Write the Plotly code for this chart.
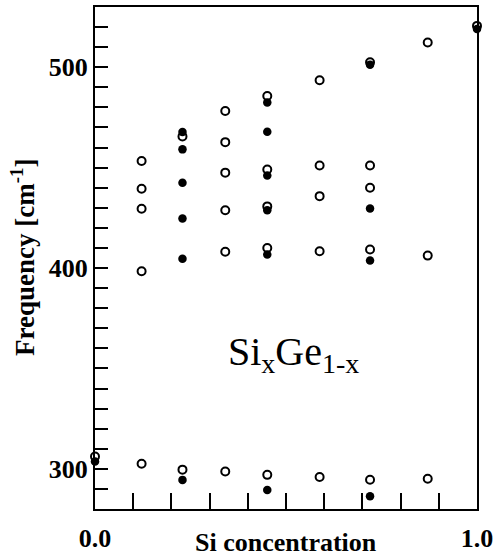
import plotly.graph_objects as go

# Open circles (x = Si concentration, y = frequency cm^-1)
open_x = [0.0,
          0.122, 0.122, 0.122, 0.122, 0.122,
          0.229, 0.229,
          0.341, 0.341, 0.341, 0.341, 0.341, 0.341,
          0.451, 0.451, 0.451, 0.451, 0.451,
          0.588, 0.588, 0.588, 0.588, 0.588,
          0.720, 0.720, 0.720, 0.720, 0.720,
          0.871, 0.871, 0.871,
          1.0]
open_y = [306.1,
          453.3, 439.5, 429.5, 398.4, 302.5,
          465.5, 299.6,
          478.2, 462.7, 447.5, 428.8, 408.1, 298.7,
          485.7, 449.1, 430.7, 410.0, 297.0,
          493.5, 451.1, 435.8, 408.4, 295.9,
          502.5, 451.1, 440.0, 409.2, 294.6,
          512.3, 406.2, 295.1,
          520.6]

# Filled circles
fill_x = [0.0,
          0.229, 0.229, 0.229, 0.229, 0.229, 0.229,
          0.451, 0.451, 0.451, 0.451, 0.451, 0.451,
          0.720, 0.720, 0.720, 0.720,
          1.0]
fill_y = [303.6,
          467.8, 459.1, 442.5, 424.7, 404.6, 294.5,
          482.4, 467.9, 446.1, 428.8, 406.7, 289.5,
          501.3, 429.7, 403.7, 286.3,
          519.0]

y_tick_vals = list(range(280, 531, 10))
y_tick_text = [str(v) if v in (300, 400, 500) else "" for v in y_tick_vals]
x_tick_vals = [i / 10 for i in range(11)]
x_tick_text = ["0.0" if v == 0 else ("1.0" if v == 1.0 else "") for v in x_tick_vals]

x_title = "Si concentration"
y_title = "Frequency [cm<sup>-1</sup>]"
label = "Si<sub>x</sub>Ge<sub>1-x</sub>"

FONT = "Liberation Serif"

fig = go.Figure()
fig.add_trace(go.Scatter(
    x=open_x, y=open_y, mode="markers",
    marker=dict(symbol="circle-open", size=8, color="black", line=dict(width=2, color="black")),
    showlegend=False, cliponaxis=False))
fig.add_trace(go.Scatter(
    x=fill_x, y=fill_y, mode="markers",
    marker=dict(symbol="circle", size=8.5, color="black"),
    showlegend=False, cliponaxis=False))

fig.add_annotation(
    x=0.52, y=357, xref="x", yref="y",
    text=label, showarrow=False,
    font=dict(family=FONT, size=40, color="black"))

fig.add_annotation(
    x=0.5, y=0, xref="paper", yref="paper", yanchor="middle",
    yshift=-33, text=x_title, showarrow=False,
    font=dict(family=FONT, size=26, color="black", weight="bold"))

fig.add_annotation(
    x=0, y=0.5, xref="paper", yref="paper", xanchor="center", yanchor="middle",
    xshift=-72, textangle=-90, text=y_title, showarrow=False,
    font=dict(family=FONT, size=27, color="black", weight="bold"))

fig.update_layout(
    width=497, height=557,
    margin=dict(l=95, r=20, t=7, b=48),
    paper_bgcolor="white", plot_bgcolor="white",
    font=dict(family=FONT, color="black"),
    xaxis=dict(
        range=[0, 1], tickvals=x_tick_vals, ticktext=x_tick_text,
        ticks="inside", ticklen=16, tickwidth=2, tickcolor="black",
        showline=True, linewidth=2, linecolor="black", mirror=True,
        showgrid=False, zeroline=False, automargin=False,
        tickfont=dict(family=FONT, size=26, color="black", weight="bold"),
        ticklabelstandoff=5,
    ),
    yaxis=dict(
        range=[280, 530], tickvals=y_tick_vals, ticktext=y_tick_text,
        ticks="inside", ticklen=13, tickwidth=2, tickcolor="black",
        showline=True, linewidth=2, linecolor="black", mirror=True,
        showgrid=False, zeroline=False, automargin=False,
        tickfont=dict(family=FONT, size=26, color="black", weight="bold"),
        ticklabelstandoff=0,
    ),
)

fig.write_html("out.html")
